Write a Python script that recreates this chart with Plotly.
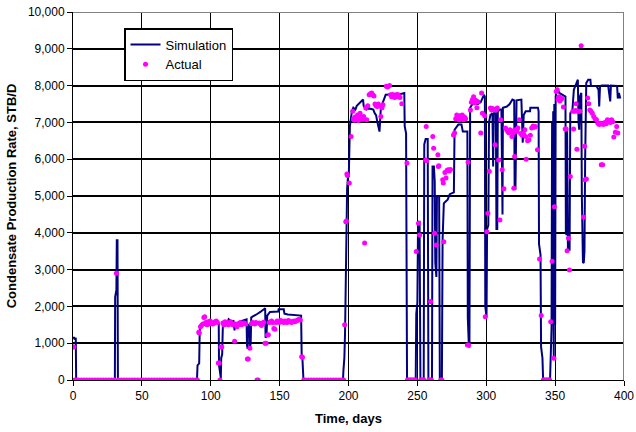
import plotly.graph_objects as go

# Simulated condensate rate (step-like history), STB/D vs days
sim_day = [
    0, 0.8, 1.2, 1.6, 2.0, 2.3,
    30.4, 30.6, 31.5, 31.8, 32.3, 32.6,
    90.0, 90.4, 91.6, 92.0, 92.8, 96, 100, 105.8, 106.0, 106.6,
    107.0, 107.3, 107.6, 108.3, 108.8, 112, 113, 114.5, 116.5, 116.8,
    117.3, 117.6, 120, 122, 124, 126.0, 126.3, 126.8, 127.2, 128.3,
    128.6, 129.0, 129.4, 132, 134, 136, 138, 139.5, 139.8, 140.5,
    141, 143, 149, 149.3, 153, 153.5, 156, 159, 162, 165.6,
    166.0, 166.5, 167.3,
    196.0, 196.3, 197.0, 197.5, 198.3, 199.0, 199.6, 200.2, 201.0, 201.9,
    202.5, 203.5, 205, 206, 208, 210.6, 211, 213, 215, 218,
    219, 220, 221, 222.5, 223.5, 225.7, 227, 230, 233, 236,
    240.5, 240.8, 241.8, 242.5,
    248.8, 249.2, 250.0, 250.5, 251.6, 252.2, 254.6, 255.0, 256, 257.5,
    258.0, 260.6, 261.0, 262.0, 262.6, 263.0, 263.8, 264.2, 265.8, 266.3,
    267.8, 268.3, 269.2, 270.5, 272, 273.5, 276.5, 277, 279.7, 282,
    283, 286.3, 286.6, 287.3, 287.8, 288.3, 290, 294, 296, 298.3,
    299.0, 299.3, 300.2, 300.6, 301.5, 302.0, 303, 304.5, 305.0, 305.5,
    307, 307.4, 308.0, 308.4, 310, 311, 311.3, 311.8, 312.1, 315,
    317, 319, 320.3, 320.6, 321.2, 321.5, 322, 325.5, 326.5, 327.2,
    328.6, 331.8, 332, 334.5, 337.5, 338.0, 338.3, 339.4, 339.8, 340.8,
    341.3,
    346.3, 346.6, 347.0, 347.4, 347.8, 348.2, 348.6, 349.0, 349.4, 350.0,
    350.4, 350.8, 351.5, 353, 355, 357.5, 357.8, 358.3, 358.7, 359.3,
    360.5, 361.0, 362.5, 363.6, 365.5, 366.5, 367.0, 367.5, 368.0, 369.0,
    369.4, 370.2, 370.8, 371.3, 371.8, 372.6, 374, 375.6, 376, 380,
    381.5, 382, 382.6, 384, 388.5, 389, 390, 390.5, 392, 395,
    395.5, 396.3, 397.3,
]
sim_rate = [
    1150, 1150, 1100, 1150, 1150, 0,
    0, 2250, 2450, 3800, 3800, 0,
    0, 400, 450, 1350, 1500, 1500, 1550, 1550, 400, 250,
    50, 50, 600, 700, 1500, 1550, 1650, 1600, 1600, 1350,
    1350, 1550, 1550, 1600, 1620, 1650, 950, 850, 1500, 1500,
    900, 1000, 1700, 1750, 1800, 1850, 1900, 1950, 1150, 1200,
    1750, 1850, 1860, 1920, 1920, 1800, 1780, 1770, 1750, 1750,
    700, 620, 0,
    0, 250, 600, 1300, 3800, 5200, 5500, 5530, 6900, 7160,
    7300, 7400, 7350, 7450, 7530, 7620, 7450, 7350, 7380, 7350,
    7250, 7200, 7000, 6750, 7400, 7600, 7750, 7760, 7720, 7750,
    7800, 6900, 6700, 0,
    0, 1800, 2100, 4300, 4300, 0, 0, 6400, 6550, 6550,
    0, 0, 5800, 5800, 5400, 3200, 2800, 4990, 4990, 0,
    0, 3800, 4800, 4850, 4900, 5050, 5100, 6800, 6940, 6940,
    6750, 6750, 1700, 1000, 880, 7400, 7500, 7500, 7550, 7750,
    7700, 2000, 1700, 4100, 4200, 7000, 7200, 7250, 5800, 7250,
    7250, 4100, 4100, 7300, 7350, 7350, 4500, 4500, 7400, 7430,
    7500, 7620, 7600, 5200, 5200, 7550, 7600, 7620, 6450, 7200,
    7300, 7300, 7400, 7400, 7400, 7300, 3700, 3400, 900, 600,
    0,
    0, 300, 600, 1400, 7000, 1500, 7300, 600, 7500, 1500,
    7700, 7840, 7930, 7800, 7750, 7700, 4000, 3940, 6800, 3540,
    3540, 7250, 7300, 7890, 8070, 8160, 7000, 6800, 7700, 7800,
    5000, 3200, 3180, 3500, 6000, 8070, 8160, 8160, 7990, 7990,
    7890, 7430, 7990, 8000, 8000, 7890, 7570, 8000, 8000, 7990,
    7650, 7800, 7650,
]

# Measured condensate rate, STB/D vs days
actual_day = [
    0.0, 0.6, 1.2, 2.5, 4, 6, 8, 10, 12, 14,
    16, 18, 20, 22, 24, 26, 28, 30, 31.5, 33,
    35, 37, 39, 41, 43, 45, 47, 49, 51, 53,
    55, 57, 59, 61, 63, 65, 67, 69, 71, 73,
    75, 77, 79, 81, 83, 85, 87, 89, 90.3, 91.3,
    91.7, 92.5, 93.3, 94.2, 95.0, 95.6, 96.3, 97.2, 98.0, 98.8,
    99.6, 100.5, 101.4, 102.3, 103.2, 104.0, 104.8, 105.5, 106.2, 106.7,
    107.4, 108.0, 108.8, 109.6, 110.4, 111.2, 112.0, 112.8, 113.6, 114.4,
    115.2, 116.0, 117.3, 118.2, 119.0, 119.8, 120.6, 121.4, 122.2, 123.0,
    123.8, 124.6, 125.4, 126.6, 127.2, 128.4, 129.5, 130.4, 131.2, 132.0,
    132.8, 133.6, 134.4, 135.2, 136.0, 136.8, 137.6, 138.4, 139.4, 140.2,
    141.2, 141.8, 142.6, 143.4, 144.2, 145.0, 145.8, 146.6, 147.4, 148.2,
    149.0, 149.8, 150.6, 151.4, 152.2, 153.0, 153.8, 154.6, 155.4, 156.2,
    157.0, 157.8, 158.6, 159.4, 160.2, 161.0, 161.8, 162.6, 163.4, 164.4,
    165.0, 166.0, 166.6, 167.5, 169, 171, 173, 175, 177, 179,
    181, 183, 185, 187, 189, 191, 193, 195, 196.5, 197.2,
    198.0, 198.5, 198.8, 199.2, 200.6, 201.9, 203.0, 203.6, 204.2, 204.8,
    205.4, 206.0, 206.6, 207.2, 207.8, 208.4, 209.0, 209.6, 210.2, 211.0,
    211.7, 212.5, 213.2, 214.0, 215.0, 216.0, 216.8, 217.6, 218.5, 219.2,
    220.0, 220.8, 221.6, 222.4, 223.5, 224.3, 225.0, 227.4, 228.4, 229.8,
    230.5, 231.3, 232.0, 232.8, 233.5, 234.3, 235.0, 235.8, 236.6, 237.4,
    238.7, 242.4, 242.8, 243.6, 244.4, 245.2, 246.0, 246.8, 247.6, 248.4,
    249.2, 250.8, 251.6, 252.4, 253.2, 254.0, 254.8, 256.0, 256.4, 256.8,
    258.4, 259.2, 259.6, 260.2, 261.2, 261.8, 262.5, 263.7, 264.9, 265.2,
    265.6, 267.0, 267.8, 268.4, 268.8, 269.2, 270.0, 270.8, 271.6, 272.4,
    273.2, 274.0, 276.2, 277.0, 277.8, 278.6, 279.4, 280.2, 281.0, 281.8,
    282.6, 283.4, 284.2, 285.0, 286.3, 286.8, 287.2, 288.5, 289.2, 290.0,
    290.8, 291.6, 292.4, 293.2, 294.0, 296.0, 296.6, 297.2, 298.8, 299.3,
    300.4, 301.2, 302.2, 303.0, 303.8, 304.6, 305.4, 306.4, 307.2, 308.0,
    309.0, 309.9, 310.5, 311.6, 312.8, 314.0, 314.8, 315.6, 316.4, 317.2,
    318.0, 318.6, 319.4, 320.0, 320.6, 321.4, 322.2, 323.0, 324.0, 325.0,
    326.0, 327.0, 328.0, 328.6, 329.0, 330.0, 331.0, 332.0, 333.0, 334.0,
    335.0, 335.7, 337.2, 338.7, 339.9, 341.4, 342.2, 343.0, 343.8, 344.6,
    345.4, 346.0, 346.8, 347.8, 349.1, 349.4, 350.8, 351.6, 352.2, 352.8,
    353.4, 354.0, 354.8, 356.0, 357.3, 358.0, 358.7, 359.7, 360.4, 361.0,
    362.8, 363.4, 364.2, 364.8, 365.3, 365.8, 366.4, 367.2, 368.0, 368.9,
    370.5, 371.4, 371.7, 372.7, 373.6, 374.4, 375.2, 376.0, 377.0, 378.0,
    379.0, 380.0, 381.0, 382.0, 383.0, 383.5, 384.5, 385.0, 386.0, 387.0,
    388.0, 389.0, 390.0, 391.0, 391.8, 392.6, 393.7, 394.7, 395.5,
]
actual_rate = [
    900, 900, 0, 0, 0, 0, 0, 0, 0, 0,
    0, 0, 0, 0, 0, 0, 0, 0, 2900, 0,
    0, 0, 0, 0, 0, 0, 0, 0, 0, 0,
    0, 0, 0, 0, 0, 0, 0, 0, 0, 0,
    0, 0, 0, 0, 0, 0, 0, 0, 0, 1300,
    1280, 1450, 1480, 1520, 1700, 1720, 1560, 1500, 1580, 1520,
    1600, 1560, 1520, 1540, 1580, 1600, 1560, 460, 460, 0,
    900, 900, 1550, 1500, 1580, 1520, 1560, 1500, 1540, 1580,
    1520, 1500, 1050, 1520, 1450, 1500, 1540, 1560, 1500, 1520,
    1550, 1540, 1520, 570, 570, 860, 1530, 1560, 1540, 1520,
    1560, 0, 0, 1550, 1520, 1480, 1550, 1570, 1000, 1000,
    1220, 1230, 1560, 1580, 1600, 1560, 1400, 1380, 1560, 1600,
    1580, 1560, 1620, 1600, 1580, 1560, 1600, 1580, 1560, 1620,
    1600, 1580, 1560, 1580, 1600, 1580, 1600, 1620, 1640, 1650,
    1630, 630, 620, 0, 0, 0, 0, 0, 0, 0,
    0, 0, 0, 0, 0, 0, 0, 0, 0, 1500,
    4300, 4320, 5600, 5560, 5350, 6620, 7300, 7100, 7060, 7150,
    7080, 7120, 7200, 7050, 7150, 7250, 7100, 7150, 7080, 7160,
    3720, 7390, 7070, 7450, 7750, 7780, 7800, 7750, 7720, 7500,
    7450, 7430, 7500, 7450, 7160, 7400, 7480, 7980, 7960, 8000,
    7750, 7700, 7760, 7720, 7680, 7750, 7700, 7760, 7720, 7680,
    7510, 5900, 0, 0, 0, 0, 0, 0, 0, 0,
    3490, 4260, 3940, 0, 0, 0, 0, 5980, 6890, 5960,
    0, 0, 2130, 0, 6620, 6300, 3990, 3670, 6120, 5800,
    5820, 0, 0, 5440, 5350, 3760, 5640, 5490, 5700, 5710,
    5680, 5720, 6660, 6710, 7100, 7200, 7150, 7070, 7180, 7120,
    7200, 7070, 7150, 7100, 950, 5920, 950, 7340, 7550, 7620,
    7700, 7530, 7600, 7400, 7560, 6710, 7800, 7250, 7180, 1720,
    4030, 4530, 5670, 7390, 7340, 7380, 7350, 6390, 7340, 7390,
    5980, 4350, 7070, 5710, 5200, 6850, 6800, 6750, 6720, 6800,
    6780, 6620, 6710, 5210, 6070, 6800, 6750, 6850, 7070, 6700,
    6650, 6700, 6800, 6620, 6000, 6500, 6530, 6650, 6850, 6900,
    6870, 6890, 6260, 3290, 1750, 0, 0, 0, 0, 0,
    0, 0, 1580, 3230, 590, 4710, 7840, 7890, 7620, 7700,
    7580, 7620, 7650, 7420, 6820, 6820, 3510, 3850, 2990, 5530,
    7300, 6820, 7300, 7320, 7510, 6270, 7300, 7300, 7300, 9080,
    4430, 6350, 5440, 5460, 7660, 7510, 7340, 7300, 7250, 7160,
    7100, 7070, 6980, 6940, 6980, 5850, 5850, 6940, 7000, 6960,
    7070, 7050, 7000, 7070, 7020, 6600, 6730, 6890, 6710,
]

x_ticks = [0, 50, 100, 150, 200, 250, 300, 350, 400]
y_ticks = [0, 1000, 2000, 3000, 4000, 5000, 6000, 7000, 8000, 9000, 10000]
y_tick_text = ["0", "1,000", "2,000", "3,000", "4,000", "5,000",
               "6,000", "7,000", "8,000", "9,000", "10,000"]

FONT = "Liberation Sans, Arial, Helvetica, sans-serif"

fig = go.Figure()
fig.add_trace(go.Scatter(
    x=sim_day, y=sim_rate, mode="lines", name="Simulation",
    line=dict(color="#000080", width=2),
))
fig.add_trace(go.Scatter(
    x=actual_day, y=actual_rate, mode="markers", name="Actual",
    marker=dict(color="#FF00FF", size=5, line=dict(width=0)),
))

axis_common = dict(
    showgrid=True, gridcolor="black",
    showline=True, linecolor="black", linewidth=1,
    ticks="outside", ticklen=5, tickcolor="black", tickwidth=1,
    zeroline=False, automargin=False,
    tickfont=dict(size=12, family=FONT, color="black"),
)

fig.update_xaxes(
    range=[0, 400], tickvals=x_ticks, gridwidth=1.3,
    title=dict(text="<b>Time, days</b>", font=dict(size=13, family=FONT), standoff=11),
    **axis_common,
)
fig.update_yaxes(
    range=[0, 10000], tickvals=y_ticks, ticktext=y_tick_text, gridwidth=1.5,
    title=dict(text="<b>Condensate Production Rate, STB/D</b>",
               font=dict(size=13, family=FONT), standoff=8),
    **axis_common,
)

# grey plot-area frame along the top and right edges
fig.add_shape(type="line", xref="x", yref="y", x0=0, x1=400, y0=10000, y1=10000,
              line=dict(color="#808080", width=2), layer="above")
fig.add_shape(type="line", xref="x", yref="y", x0=400, x1=400, y0=0, y1=10000,
              line=dict(color="#808080", width=2), layer="above")

fig.update_layout(
    width=636, height=432,
    margin=dict(l=73, r=12, t=12, b=52, pad=0),
    plot_bgcolor="white", paper_bgcolor="white",
    font=dict(family=FONT, size=12, color="black"),
    legend=dict(
        x=0.0926, y=0.9565, xanchor="left", yanchor="top",
        bgcolor="white", bordercolor="black", borderwidth=1.5,
        font=dict(size=13, family=FONT), itemwidth=30,
        tracegroupgap=0,
    ),
)

fig.write_html("out.html")
